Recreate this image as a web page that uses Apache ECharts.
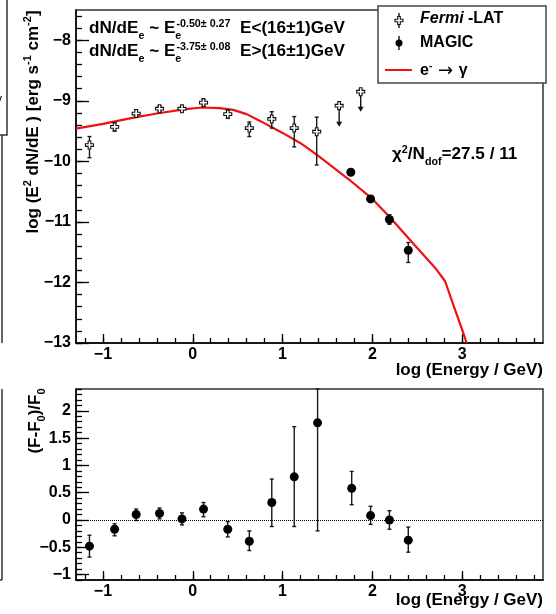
<!DOCTYPE html>
<html>
<head>
<meta charset="utf-8">
<script src="https://cdn.jsdelivr.net/npm/echarts@6/dist/echarts.min.js"></script>
<style>
html, body { margin: 0; padding: 0; background: #fff; }
#main { width: 556px; height: 614px; }
</style>
</head>
<body>
<div id="main"></div>
<script>
var FONT = '"Liberation Sans", Arial, Helvetica, sans-serif';

// ---- top panel: Fermi-LAT points (log E, log E2dN/dE) ----
var fermiX  = [-1.15, -0.87, -0.63, -0.37, -0.12, 0.12, 0.39, 0.63, 0.88, 1.13, 1.38];
var fermiY  = [-9.73, -9.43, -9.21, -9.13, -9.13, -9.03, -9.22, -9.45, -9.30, -9.45, -9.51];
var fermiLo = [-9.94, -9.50, -9.27, -9.18, -9.18, -9.08, -9.29, -9.59, -9.45, -9.76, -10.06];
var fermiHi = [-9.59, -9.36, -9.15, -9.08, -9.08, -8.98, -9.15, -9.35, -9.18, -9.26, -9.27];

// Fermi-LAT upper limits (marker value, arrow tip value)
var ulX   = [1.63, 1.87];
var ulY   = [-9.08, -8.85];
var ulEnd = [-9.43, -9.18];

// MAGIC points
var magicX  = [1.76, 1.98, 2.19, 2.40];
var magicY  = [-10.18, -10.62, -10.96, -11.47];
var magicLo = [-10.23, -10.67, -11.04, -11.67];
var magicHi = [-10.13, -10.57, -10.88, -11.34];

// e- -> gamma model curve
var modelX = [-1.3, -1.0, -0.7, -0.4, -0.1, 0.1, 0.3, 0.45, 0.6, 0.76, 1.0, 1.2, 1.38, 1.74, 2.0, 2.2, 2.47, 2.7, 2.81, 2.92, 3.0, 3.05];
var modelY = [-9.46, -9.38, -9.29, -9.21, -9.14, -9.11, -9.12, -9.15, -9.22, -9.34, -9.53, -9.70, -9.89, -10.30, -10.62, -10.93, -11.38, -11.76, -11.98, -12.45, -12.78, -13.0];

// ---- bottom panel: residuals (F-F0)/F0 ----
var resX  = [-1.15, -0.87, -0.63, -0.37, -0.12, 0.12, 0.39, 0.63, 0.88, 1.13, 1.39, 1.77, 1.98, 2.19, 2.40];
var resY  = [-0.48, -0.17, 0.10, 0.12, 0.02, 0.20, -0.17, -0.39, 0.32, 0.79, 1.78, 0.58, 0.08, 0.00, -0.37];
var resLo = [-0.68, -0.29, -0.01, 0.02, -0.09, 0.06, -0.31, -0.56, -0.12, -0.12, -0.20, 0.28, -0.08, -0.17, -0.59];
var resHi = [-0.28, -0.07, 0.20, 0.22, 0.13, 0.32, -0.03, -0.20, 0.75, 1.71, 2.40, 0.89, 0.25, 0.17, -0.13];

// ---- ticks ----
var xTicks = [-1, 0, 1, 2, 3];
var yTopTicks = [-13, -12, -11, -10, -9, -8];
var yBotTicks = [-1, -0.5, 0, 0.5, 1, 1.5, 2];
var xMinor = [], yTopMinor = [], yBotMinor = [];
for (var i = -12; i <= 38; i += 2) xMinor.push(i / 10);
for (var i = -130; i <= -76; i += 2) yTopMinor.push(i / 10);
for (var i = -11; i <= 24; i += 1) yBotMinor.push(i / 10);

function minus(v) { return String(v).replace('-', '\u2212'); }
function pairs(xs, ys) { return xs.map(function (x, i) { return [x, ys[i]]; }); }
function triples(xs, a, b) { return xs.map(function (x, i) { return [x, a[i], b[i]]; }); }

function errorBars(params, api) {
    var x = api.value(0);
    var lo = api.coord([x, api.value(1)]);
    var hi = api.coord([x, api.value(2)]);
    var st = { stroke: '#1a1a1a', lineWidth: 1.4 };
    return { type: 'group', children: [
        { type: 'line', shape: { x1: lo[0], y1: lo[1], x2: hi[0], y2: hi[1] }, style: st },
        { type: 'line', shape: { x1: lo[0] - 2, y1: lo[1], x2: lo[0] + 2, y2: lo[1] }, style: st },
        { type: 'line', shape: { x1: hi[0] - 2, y1: hi[1], x2: hi[0] + 2, y2: hi[1] }, style: st }
    ]};
}
function limitArrows(params, api) {
    var x = api.value(0);
    var a = api.coord([x, api.value(1)]);
    var b = api.coord([x, api.value(2)]);
    return { type: 'group', children: [
        { type: 'line', shape: { x1: a[0], y1: a[1], x2: b[0], y2: b[1] - 4 }, style: { stroke: '#111', lineWidth: 1.4 } },
        { type: 'polygon', shape: { points: [[b[0] - 3, b[1] - 5], [b[0] + 3, b[1] - 5], [b[0], b[1]]] }, style: { fill: '#111' } }
    ]};
}

var crossPath = 'path://M3,0 H6 V3 H9 V6 H6 V9 H3 V6 H0 V3 H3 Z';
// legend open cross outline (relative to its centre)
var crossPts = [[-1.3,-4],[1.3,-4],[1.3,-1.3],[4,-1.3],[4,1.3],[1.3,1.3],[1.3,4],[-1.3,4],[-1.3,1.3],[-4,1.3],[-4,-1.3],[-1.3,-1.3]];

function mainX(grid, minorOnly) {
    return {
        type: 'value', gridIndex: grid, min: -1.3, max: 3.9, position: 'bottom',
        splitLine: { show: false },
        axisLine: { show: !minorOnly, onZero: false, lineStyle: { color: '#000', width: 1.5 } },
        axisTick: { inside: true, length: minorOnly ? 5 : 9, customValues: minorOnly ? xMinor : xTicks,
                    lineStyle: { color: '#000', width: 1.3 } },
        axisLabel: { show: !minorOnly, customValues: xTicks, formatter: minus, margin: 4,
                     color: '#000', fontSize: 16, fontWeight: 'bold', fontFamily: FONT }
    };
}
function mainY(grid, min, max, ticks, minor, minorOnly) {
    return {
        type: 'value', gridIndex: grid, min: min, max: max, position: 'left',
        splitLine: { show: false },
        axisLine: { show: !minorOnly, onZero: false, lineStyle: { color: '#000', width: 1.5 } },
        axisTick: { inside: true, length: minorOnly ? 6 : 13, customValues: minorOnly ? minor : ticks,
                    lineStyle: { color: '#000', width: 1.3 } },
        axisLabel: { show: !minorOnly, customValues: ticks, formatter: minus, margin: 5,
                     color: '#000', fontSize: 16, fontWeight: 'bold', fontFamily: FONT }
    };
}

function rich(fs) {
    return {
        m:  { fontSize: fs, fontWeight: 'bold', fontFamily: FONT, fill: '#000', verticalAlign: 'bottom', padding: [0, 0, Math.round(fs * 0.25), 0] },
        mi: { fontSize: fs, fontWeight: 'bold', fontStyle: 'italic', fontFamily: FONT, fill: '#000', verticalAlign: 'bottom', padding: [0, 0, Math.round(fs * 0.25), 0] },
        ar: { fontSize: fs + 2, fontFamily: '"DejaVu Sans", sans-serif', fill: '#000', verticalAlign: 'bottom', padding: [0, 0, Math.round(fs * 0.2), 0] },
        sb: { fontSize: Math.round(fs * 0.65), fontWeight: 'bold', fontFamily: FONT, fill: '#000', verticalAlign: 'bottom' },
        sb0:{ fontSize: Math.round(fs * 0.65), fontWeight: 'bold', fontFamily: FONT, fill: '#000', verticalAlign: 'bottom', width: 1 },
        sp: { fontSize: Math.round(fs * 0.65), fontWeight: 'bold', fontFamily: FONT, fill: '#000', verticalAlign: 'bottom', padding: [0, 0, Math.round(fs * 0.75), 0] }
    };
}
function label(x, y, text, fs, opts) {
    opts = opts || {};
    return {
        type: 'text', x: x, y: y, rotation: opts.rotation || 0, scaleX: opts.scaleX || 1, z: 50,
        style: { text: text, rich: rich(fs), align: opts.align || 'left', verticalAlign: 'middle' }
    };
}

var chart = echarts.init(document.getElementById('main'));
chart.setOption({
    animation: false,
    backgroundColor: '#fff',
    grid: [
        { left: 76, top: 10, width: 467, height: 333, show: true, borderColor: '#333', borderWidth: 1.5 },
        { left: 76, top: 389, width: 467, height: 191, show: true, borderColor: '#333', borderWidth: 1.5 },
        { left: 76, top: 10, width: 467, height: 333 },
        { left: 76, top: 389, width: 467, height: 191 }
    ],
    xAxis: [ mainX(0, false), mainX(1, false), mainX(2, true), mainX(3, true) ],
    yAxis: [
        mainY(0, -13, -7.5, yTopTicks, yTopMinor, false),
        mainY(1, -1.1, 2.4, yBotTicks, yBotMinor, false),
        mainY(2, -13, -7.5, yTopTicks, yTopMinor, true),
        mainY(3, -1.1, 2.4, yBotTicks, yBotMinor, true)
    ],
    series: [
        { type: 'line', xAxisIndex: 0, yAxisIndex: 0, data: pairs(modelX, modelY), showSymbol: false, z: 2,
          lineStyle: { color: '#f01010', width: 2.2 } },
        { type: 'custom', xAxisIndex: 0, yAxisIndex: 0, data: triples(fermiX, fermiLo, fermiHi), renderItem: errorBars, z: 3 },
        { type: 'custom', xAxisIndex: 0, yAxisIndex: 0, data: triples(ulX, ulY, ulEnd), renderItem: limitArrows, z: 3 },
        { type: 'custom', xAxisIndex: 0, yAxisIndex: 0, data: triples(magicX, magicLo, magicHi), renderItem: errorBars, z: 3 },
        { type: 'scatter', xAxisIndex: 0, yAxisIndex: 0, data: pairs(fermiX, fermiY).concat(pairs(ulX, ulY)),
          symbol: crossPath, symbolSize: 8, z: 4,
          itemStyle: { color: '#fff', borderColor: '#111', borderWidth: 1.1, opacity: 1 } },
        { type: 'scatter', xAxisIndex: 0, yAxisIndex: 0, data: pairs(magicX, magicY), symbol: 'circle', symbolSize: 9, z: 4,
          itemStyle: { color: '#000', opacity: 1 } },
        { type: 'custom', xAxisIndex: 1, yAxisIndex: 1, data: triples(resX, resLo, resHi), renderItem: errorBars, z: 3 },
        { type: 'scatter', xAxisIndex: 1, yAxisIndex: 1, data: pairs(resX, resY), symbol: 'circle', symbolSize: 9, z: 4,
          itemStyle: { color: '#000', opacity: 1 },
          markLine: { silent: true, symbol: 'none', label: { show: false }, data: [{ yAxis: 0 }],
                      lineStyle: { color: '#000', type: 'dotted', width: 1 } } }
    ],
    graphic: [
        // remnants of the neighbouring figure panel
        { type: 'rect', shape: { x: -10, y: -5, width: 17, height: 140 }, style: { fill: 'none', stroke: '#333', lineWidth: 1.5 } },
        { type: 'text', x: -4, y: 100, style: { text: '\u03b3', font: '12px ' + FONT, fill: '#000', verticalAlign: 'middle' } },
        { type: 'line', shape: { x1: 2, y1: 135, x2: 2, y2: 343 }, style: { stroke: '#333', lineWidth: 1.5 } },
        { type: 'line', shape: { x1: 2, y1: 389, x2: 2, y2: 580 }, style: { stroke: '#333', lineWidth: 1.5 } },
        { type: 'line', shape: { x1: 0, y1: 580, x2: 2, y2: 580 }, style: { stroke: '#333', lineWidth: 1.5 } },

        // annotations
        label(89, 30, '{m|dN/dE}{sb|e}{m| ~ E}{sb0|e}{sp|-0.50\u00b1 0.27}{m|  E<(16\u00b11)GeV}', 16, { scaleX: 1.07 }),
        label(89, 53, '{m|dN/dE}{sb|e}{m| ~ E}{sb0|e}{sp|-3.75\u00b1 0.08}{m|  E>(16\u00b11)GeV}', 16, { scaleX: 1.07 }),
        label(392, 156, '{m|\u03c7}{sp|2}{m|/N}{sb|dof}{m|=27.5 / 11}', 16, { scaleX: 1.07 }),
        label(543, 372, '{m|log (Energy / GeV)}', 17, { align: 'right' }),
        label(543, 602, '{m|log (Energy / GeV)}', 17, { align: 'right' }),
        label(34, 122, '{m|log (E}{sp|2}{m| dN/dE ) [erg s}{sp|-1}{m| cm}{sp|-2}{m|]}', 17, { rotation: Math.PI / 2, align: 'center' }),
        label(37, 421, '{m|(F-F}{sb|0}{m|)/F}{sb|0}', 17, { rotation: Math.PI / 2, align: 'center' }),

        // legend box
        { type: 'rect', z: 40, shape: { x: 378, y: 6, width: 168, height: 77 }, style: { fill: '#fff', stroke: '#444', lineWidth: 1.5 } },
        { type: 'line', z: 41, shape: { x1: 399, y1: 13, x2: 399, y2: 28 }, style: { stroke: '#111', lineWidth: 1.4 } },
        { type: 'polygon', z: 42, x: 399, y: 20.5, shape: { points: crossPts }, style: { fill: '#fff', stroke: '#111', lineWidth: 1.1 } },
        { type: 'line', z: 41, shape: { x1: 399, y1: 36, x2: 399, y2: 50 }, style: { stroke: '#111', lineWidth: 1.4 } },
        { type: 'circle', z: 42, shape: { cx: 399, cy: 43, r: 3.5 }, style: { fill: '#000' } },
        { type: 'line', z: 41, shape: { x1: 385, y1: 70, x2: 412, y2: 70 }, style: { stroke: '#f01010', lineWidth: 2 } },
        label(420, 21, '{mi|Fermi}{m| -LAT}', 16),
        label(420, 45, '{m|MAGIC}', 16),
        label(420, 72, '{m|e}{sp|-}{ar| \u2192 }{m|\u03b3}', 16)
    ]
});
</script>
</body>
</html>
